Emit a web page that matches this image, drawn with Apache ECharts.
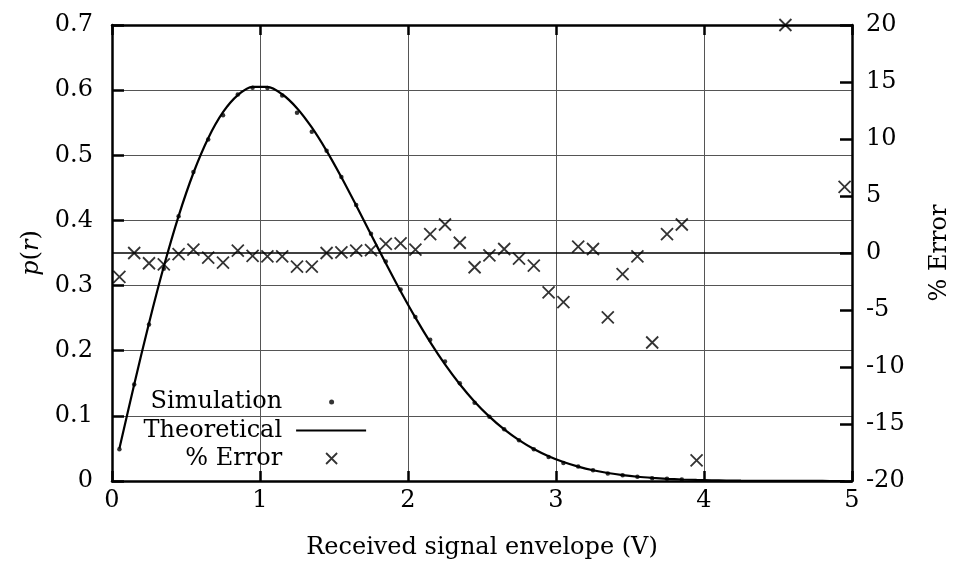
<!DOCTYPE html>
<html>
<head>
<meta charset="utf-8">
<script src="https://cdn.jsdelivr.net/npm/echarts@6/dist/echarts.min.js"></script>
<style>html,body{margin:0;padding:0;background:#fff}#c{width:955px;height:571px}</style>
</head>
<body>
<div id="c"></div>
<script>
// Bin centres of the received signal envelope (V)
const binX = [0.05,0.15,0.25,0.35,0.45,0.55,0.65,0.75,0.85,0.95,
              1.05,1.15,1.25,1.35,1.45,1.55,1.65,1.75,1.85,1.95,
              2.05,2.15,2.25,2.35,2.45,2.55,2.65,2.75,2.85,2.95,
              3.05,3.15,3.25,3.35,3.45,3.55,3.65,3.75,3.85,3.95,
              4.05,4.15,4.25,4.35,4.45,4.55,4.65,4.75,4.85,4.95];
// Theoretical p(r)
const theoretical = [0.0499,0.1483,0.2423,0.3292,0.4067,0.4728,0.5262,0.5661,0.5923,0.6050,
                     0.6050,0.5937,0.5723,0.5427,0.5068,0.4663,0.4230,0.3785,0.3342,0.2913,
                     0.2508,0.2132,0.1790,0.1486,0.1218,0.0988,0.0791,0.0627,0.0491,0.0380,
                     0.0291,0.0221,0.0165,0.0123,0.0090,0.0065,0.0047,0.0033,0.0023,0.0016,
                     0.0011,0.0008,0.0005,0.0003,0.0002,0.0001,0.0001,0.0001,0.0000,0.0000];
// Simulation p(r) (dots), visible bins only
const simX = [0.05,0.15,0.25,0.35,0.45,0.55,0.65,0.75,0.85,0.95,
              1.05,1.15,1.25,1.35,1.45,1.55,1.65,1.75,1.85,1.95,
              2.05,2.15,2.25,2.35,2.45,2.55,2.65,2.75,2.85,2.95,
              3.05,3.15,3.25,3.35,3.45,3.55,3.65,3.75,3.85];
const simulation = [0.0489,0.1483,0.2401,0.3259,0.4063,0.4742,0.5241,0.5613,0.5935,0.6035,
                    0.6032,0.5919,0.5654,0.5362,0.5068,0.4665,0.4238,0.3794,0.3369,0.2938,
                    0.2516,0.2167,0.1835,0.1499,0.1203,0.0986,0.0794,0.0624,0.0486,0.0367,
                    0.0278,0.0222,0.0166,0.0116,0.0088,0.0065,0.0043,0.0034,0.0024];
// % Error points (crosses), right axis
const errX = [0.05,0.15,0.25,0.35,0.45,0.55,0.65,0.75,0.85,0.95,
              1.05,1.15,1.25,1.35,1.45,1.55,1.65,1.75,1.85,1.95,
              2.05,2.15,2.25,2.35,2.45,2.55,2.65,2.75,2.85,2.95,
              3.05,3.15,3.25,3.35,3.45,3.55,3.65,3.75,3.85,3.95,
              4.55,4.95];
const errY = [-2.1,0.0,-0.9,-1.0,-0.1,0.3,-0.4,-0.85,0.2,-0.25,
              -0.3,-0.3,-1.2,-1.2,0.0,0.05,0.2,0.25,0.8,0.85,
              0.3,1.65,2.5,0.9,-1.25,-0.2,0.35,-0.5,-1.1,-3.45,
              -4.3,0.55,0.35,-5.65,-1.85,-0.3,-7.85,1.65,2.5,-18.2,
              20,5.8];
const leftTicks = [0,0.7,0.1];   // min, max, step
const rightTicks = [-20,20,5];
const xTicks = [0,5,1];

const FONT = 'DejaVu Serif';
const chart = echarts.init(document.getElementById('c'));
const crossPath = 'path://M0,0L10,10M10,0L0,10';
const axisLineStyle = {color:'#000', width:2.5};

chart.setOption({
  animation: false,
  backgroundColor: '#fff',
  grid: {left:112, right:103, top:25, bottom:90, containLabel:false, outerBoundsMode:'none'},
  textStyle: {fontFamily: FONT},
  legend: {
    orient: 'vertical',
    align: 'right',
    right: 583,
    top: 390,
    padding: 0,
    itemGap: 4.5,
    itemWidth: 84,
    itemHeight: 14,
    selectedMode: false,
    textStyle: {fontFamily: FONT, fontSize: 24, color:'#000'},
    data: [
      {name:'Simulation', icon:'path://M0,0M84,14M42,7a2.5,2.5 0 1,0 5,0a2.5,2.5 0 1,0 -5,0Z'},
      {name:'Theoretical', icon:'path://M0,0M84,14M9,6.1L79,6.1L79,7.9L9,7.9Z'},
      {name:'% Error', icon:'path://M0,0M84,14M39,1L50,12M50,1L39,12', itemStyle:{borderWidth:1.8}}
    ]
  },
  xAxis: [{
    type:'value', min:xTicks[0], max:xTicks[1], interval:xTicks[2],
    name:'Received signal envelope (V)', nameLocation:'middle', nameGap:55,
    nameTextStyle:{fontFamily:FONT, fontSize:24, color:'#000'},
    axisLine:{show:true, onZero:false, lineStyle:axisLineStyle},
    axisTick:{show:true, inside:true, length:10, lineStyle:{color:'#000', width:2.5}},
    axisLabel:{fontFamily:FONT, fontSize:24, color:'#000', margin:8},
    splitLine:{show:true, lineStyle:{color:'#555', width:1}}
  },{
    type:'value', position:'top', min:xTicks[0], max:xTicks[1], interval:xTicks[2],
    axisLine:{show:true, onZero:false, lineStyle:axisLineStyle},
    axisTick:{show:true, inside:true, length:10, lineStyle:{color:'#000', width:2.5}},
    axisLabel:{show:false},
    splitLine:{show:false}
  }],
  yAxis: [{
    type:'value', position:'left', min:leftTicks[0], max:leftTicks[1], interval:leftTicks[2],
    name:'{i|p}({i|r})', nameLocation:'middle', nameGap:56, nameRotate:90,
    nameTextStyle:{fontFamily:FONT, fontSize:24, color:'#000',
      rich:{i:{fontFamily:FONT, fontSize:24, fontStyle:'italic', color:'#000'}}},
    axisLine:{show:true, onZero:false, lineStyle:axisLineStyle},
    axisTick:{show:true, inside:true, length:12, lineStyle:{color:'#000', width:2.5}},
    axisLabel:{fontFamily:FONT, fontSize:24, color:'#000', margin:19},
    splitLine:{show:true, lineStyle:{color:'#555', width:1}}
  },{
    type:'value', position:'right', min:rightTicks[0], max:rightTicks[1], interval:rightTicks[2],
    name:'% Error', nameLocation:'middle', nameGap:76, nameRotate:90,
    nameTextStyle:{fontFamily:FONT, fontSize:24, color:'#000'},
    axisLine:{show:true, onZero:false, lineStyle:axisLineStyle},
    axisTick:{show:true, inside:true, length:12, lineStyle:{color:'#000', width:2.5}},
    axisLabel:{fontFamily:FONT, fontSize:24, color:'#000', margin:14},
    splitLine:{show:false}
  }],
  series: [{
    name:'Simulation', type:'scatter', xAxisIndex:0, yAxisIndex:0,
    symbol:'circle', symbolSize:4.5, itemStyle:{color:'#000'}, z:4,
    data: simX.map((x,i)=>[x, simulation[i]])
  },{
    name:'Theoretical', type:'line', xAxisIndex:0, yAxisIndex:0,
    showSymbol:false, symbol:'none', smooth:0.3, z:3,
    lineStyle:{color:'#000', width:2.2}, itemStyle:{color:'#000'},
    data: binX.map((x,i)=>[x, theoretical[i]])
  },{
    name:'% Error', type:'scatter', xAxisIndex:0, yAxisIndex:1,
    symbol:crossPath, symbolSize:12, z:5,
    itemStyle:{color:'#000', borderColor:'#000', borderWidth:1.8},
    data: errX.map((x,i)=>[x, errY[i]]),
    markLine:{silent:true, symbol:'none', label:{show:false},
      lineStyle:{color:'#000', width:1.5, type:'solid'},
      data:[{yAxis:0}]}
  }]
});
</script>
</body>
</html>
